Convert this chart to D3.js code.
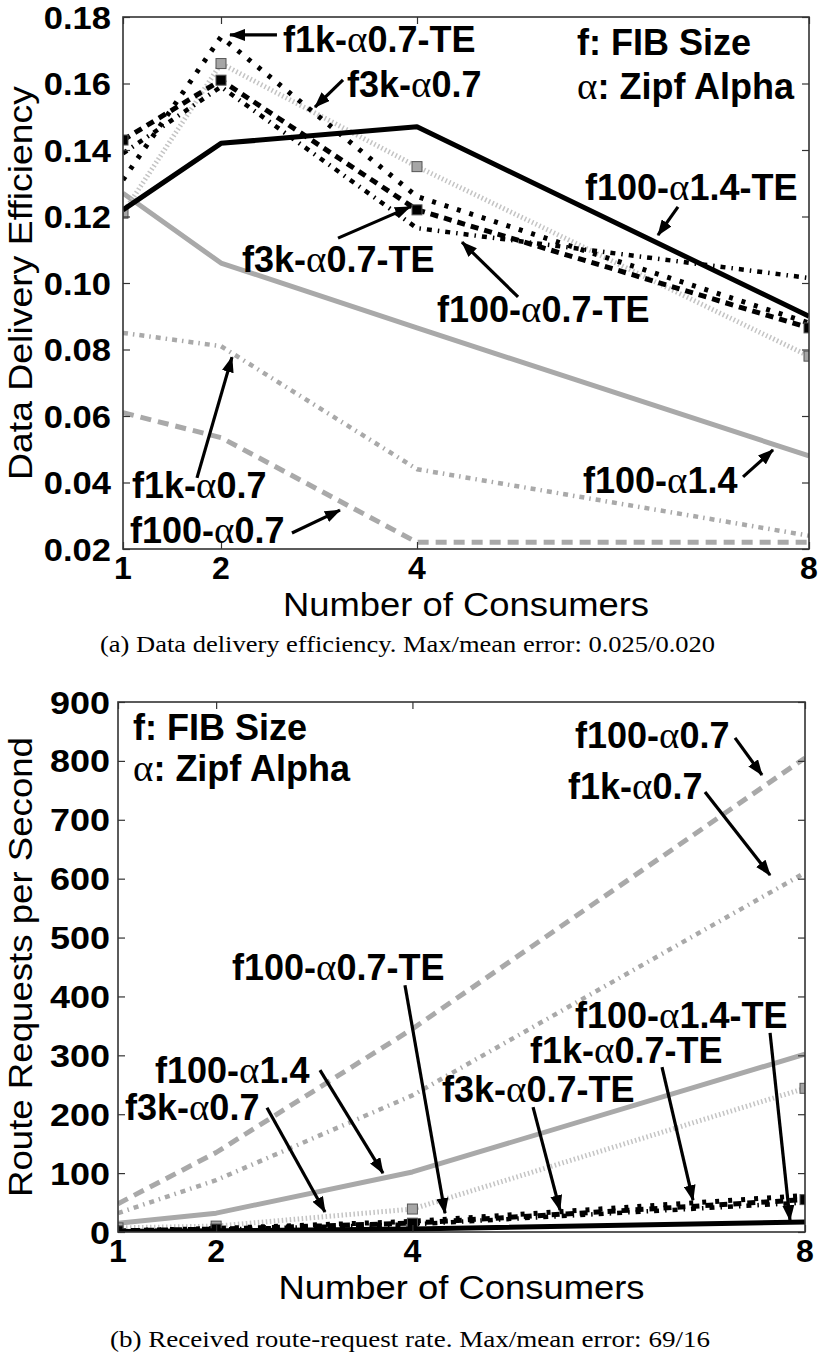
<!DOCTYPE html>
<html>
<head>
<meta charset="utf-8">
<script src="https://cdn.jsdelivr.net/npm/d3@7"></script>
<style>
  body { margin: 0; background: #fff; }
  text { font-family: "Liberation Sans", Arial, sans-serif; fill: #000; }
</style>
</head>
<body>
<div id="chart"></div>
<script>
// x values (number of consumers), same for both panels
var consumers = [1, 2, 4, 8];
var xTicks = [1, 2, 4, 8];

var seriesNames = ["f100-α0.7", "f1k-α0.7", "f100-α1.4", "f3k-α0.7",
                   "f100-α0.7-TE", "f1k-α0.7-TE", "f3k-α0.7-TE", "f100-α1.4-TE"];

// (a) data delivery efficiency
var effF100a07   = [0.061, 0.0535, 0.022, 0.022];
var effF1ka07    = [0.085, 0.081, 0.044, 0.024];
var effF100a14   = [0.127, 0.106, 0.0865, 0.048];
var effF3ka07    = [0.121, 0.166, 0.135, 0.078];
var effF100a07TE = [0.139, 0.159, 0.1165, 0.1015];
var effF1ka07TE  = [0.131, 0.174, 0.126, 0.088];
var effF3ka07TE  = [0.143, 0.161, 0.122, 0.0865];
var effF100a14TE = [0.122, 0.142, 0.147, 0.090];
var effTicks = [0.02, 0.04, 0.06, 0.08, 0.10, 0.12, 0.14, 0.16, 0.18];

// (b) route requests per second
var reqF100a07   = [48, 135, 345, 805];
var reqF1ka07    = [32, 88, 232, 610];
var reqF100a14   = [15, 32, 102, 302];
var reqF3ka07    = [7, 10, 39, 244];
var reqF100a07TE = [1, 4, 13, 50];
var reqF1ka07TE  = [2, 6, 18, 62];
var reqF3ka07TE  = [2, 5, 15, 55];
var reqF100a14TE = [1, 2, 5, 17];
var reqTicks = [0, 100, 200, 300, 400, 500, 600, 700, 800, 900];

// line looks, keyed by series name
var styles = {
  "f100-α0.7":    {color: "#a9a9a9", width: 5, dash: "11,7"},
  "f1k-α0.7":     {color: "#a9a9a9", width: 4.5, dash: "5,5,1.5,5"},
  "f100-α1.4":    {color: "#a9a9a9", width: 5, dash: null},
  "f3k-α0.7":     {color: "#c4c4c4", width: 5, dash: "1.5,2.5", marker: "#a6a6a6"},
  "f100-α0.7-TE": {color: "#000", width: 4.5, dash: "5,6,1.5,6"},
  "f1k-α0.7-TE":  {color: "#000", width: 5, dash: "4,9"},
  "f3k-α0.7-TE":  {color: "#000", width: 5, dash: "8,6", marker: "#000"},
  "f100-α1.4-TE": {color: "#000", width: 5, dash: null}
};

// annotation text + arrow, given in data units
var notesA = [
  {t: "f1k-α0.7-TE",  x: 2.633, y: 0.1695, a: [2.571, 0.1746, 2.092, 0.1746]},
  {t: "f3k-α0.7",     x: 3.286, y: 0.1559, a: [3.245, 0.1611, 2.959, 0.1529]},
  {t: "f100-α1.4-TE", x: 5.714, y: 0.1250, a: [6.663, 0.1229, 6.459, 0.1144]},
  {t: "f3k-α0.7-TE",  x: 2.214, y: 0.1033, a: [3.194, 0.1135, 3.929, 0.1229]},
  {t: "f100-α0.7-TE", x: 4.204, y: 0.0883, a: [5.031, 0.0958, 4.459, 0.1123]},
  {t: "f1k-α0.7",     x: 1.092, y: 0.0353, a: [1.755, 0.0414, 2.112, 0.0777]},
  {t: "f100-α0.7",    x: 1.071, y: 0.0218, a: [2.724, 0.0248, 3.214, 0.0317]},
  {t: "f100-α1.4",    x: 5.694, y: 0.0368, a: [7.327, 0.0417, 7.633, 0.0498]},
  {t: "f: FIB Size",  x: 5.633, y: 0.1686},
  {t: "α: Zipf Alpha", x: 5.633, y: 0.1553}
];
var notesB = [
  {t: "f100-α0.7",    x: 5.657, y: 822, a: [7.287, 839, 7.562, 776]},
  {t: "f1k-α0.7",     x: 5.585, y: 735, a: [6.981, 747, 7.644, 606]},
  {t: "f100-α0.7-TE", x: 2.162, y: 428, a: [3.924, 419, 4.332, 32]},
  {t: "f100-α1.4",    x: 1.377, y: 253, a: [3.058, 275, 3.700, 100]},
  {t: "f3k-α0.7",     x: 1.071, y: 190, a: [2.518, 211, 3.109, 34]},
  {t: "f3k-α0.7-TE",  x: 4.301, y: 221, a: [5.229, 212, 5.504, 37]},
  {t: "f1k-α0.7-TE",  x: 5.198, y: 287, a: [6.543, 280, 6.859, 54]},
  {t: "f100-α1.4-TE", x: 5.657, y: 346, a: [7.644, 338, 7.847, 20]},
  {t: "f: FIB Size",  x: 1.153, y: 835},
  {t: "α: Zipf Alpha", x: 1.153, y: 766}
];

var svg = d3.select("#chart").append("svg")
  .attr("width", 818).attr("height", 1357)
  .style("background", "#fff");

var defs = svg.append("defs");
defs.append("marker")
  .attr("id", "arrow")
  .attr("markerUnits", "userSpaceOnUse")
  .attr("viewBox", "0 0 16 12")
  .attr("markerWidth", 16).attr("markerHeight", 12)
  .attr("refX", 15).attr("refY", 6)
  .attr("orient", "auto")
  .append("path").attr("d", "M0,0 L16,6 L0,12 Z").attr("fill", "#000");

// text with the greek alpha set in a serif face, like the original
function richText(g, str, x, y, size) {
  var t = g.append("text").attr("x", x).attr("y", y)
    .attr("font-size", size).attr("font-weight", "bold");
  str.split("α").forEach(function(p, i) {
    if (i > 0) t.append("tspan")
      .style("font-family", "'Liberation Serif', 'DejaVu Serif', serif")
      .attr("font-weight", "normal").attr("font-size", size * 1.08).text("α");
    if (p) t.append("tspan").text(p);
  });
  return t;
}

function drawPanel(p) {
  var x = d3.scaleLinear().domain([1, 8]).range([p.left, p.left + p.w]);
  var y = d3.scaleLinear().domain(p.yDomain).range([p.top + p.h, p.top]);
  var g = svg.append("g");

  g.append("clipPath").attr("id", p.id)
    .append("rect").attr("x", p.left).attr("y", p.top).attr("width", p.w).attr("height", p.h);

  var line = d3.line().x(function(d) { return x(d[0]); }).y(function(d) { return y(d[1]); });
  var plot = g.append("g").attr("clip-path", "url(#" + p.id + ")");

  seriesNames.forEach(function(name, k) {
    var st = styles[name];
    var pts = consumers.map(function(c, i) { return [c, p.values[k][i]]; });
    plot.append("path").datum(pts)
      .attr("d", line)
      .attr("fill", "none")
      .attr("stroke", st.color)
      .attr("stroke-width", st.width)
      .attr("stroke-dasharray", st.dash)
      .attr("stroke-linejoin", "round");
    if (st.marker) {
      plot.selectAll(null).data(pts).enter().append("rect")
        .attr("x", function(d) { return x(d[0]) - 5; })
        .attr("y", function(d) { return y(d[1]) - 5; })
        .attr("width", 10).attr("height", 10)
        .attr("fill", st.marker).attr("stroke", "#555").attr("stroke-width", 1);
    }
  });

  // axes: ticks inside on all four sides
  var tk = 7;
  g.append("g").attr("transform", "translate(0," + (p.top + p.h) + ")")
    .call(d3.axisBottom(x).tickValues(xTicks).tickSize(-tk).tickFormat(""))
    .call(function(a) { a.select(".domain").remove(); });
  g.append("g").attr("transform", "translate(0," + p.top + ")")
    .call(d3.axisTop(x).tickValues(xTicks).tickSize(-tk).tickFormat(""))
    .call(function(a) { a.select(".domain").remove(); });
  g.append("g").attr("transform", "translate(" + p.left + ",0)")
    .call(d3.axisLeft(y).tickValues(p.yTicks).tickSize(-tk).tickFormat(""))
    .call(function(a) { a.select(".domain").remove(); });
  g.append("g").attr("transform", "translate(" + (p.left + p.w) + ",0)")
    .call(d3.axisRight(y).tickValues(p.yTicks).tickSize(-tk).tickFormat(""))
    .call(function(a) { a.select(".domain").remove(); });
  g.selectAll(".tick line").attr("stroke", "#333").attr("stroke-width", 1.2);

  g.append("rect").attr("x", p.left).attr("y", p.top).attr("width", p.w).attr("height", p.h)
    .attr("fill", "none").attr("stroke", "#333").attr("stroke-width", 1.6);

  // tick labels
  g.selectAll(null).data(p.yTicks).enter().append("text")
    .attr("x", p.left - p.yLabGap).attr("y", function(d) { return y(d); })
    .attr("dy", "0.36em").attr("text-anchor", "end")
    .attr("font-size", 32).attr("font-weight", "bold")
    .attr("textLength", function(d) { return p.yFmt(d).length * p.yCharW; })
    .attr("lengthAdjust", "spacingAndGlyphs")
    .text(p.yFmt);
  g.selectAll(null).data(xTicks).enter().append("text")
    .attr("x", function(d) { return x(d); }).attr("y", p.top + p.h + 30)
    .attr("text-anchor", "middle")
    .attr("font-size", 32).attr("font-weight", "bold")
    .text(function(d) { return d; });

  // axis titles
  g.append("text").attr("x", p.left + p.w / 2).attr("y", p.top + p.h + 67)
    .attr("text-anchor", "middle").attr("font-size", 33)
    .attr("textLength", 366).attr("lengthAdjust", "spacingAndGlyphs")
    .text("Number of Consumers");
  g.append("text")
    .attr("transform", "translate(32," + (p.top + p.h / 2) + ") rotate(-90)")
    .attr("text-anchor", "middle").attr("font-size", 34)
    .attr("textLength", p.yTitleLen).attr("lengthAdjust", "spacingAndGlyphs")
    .text(p.yTitle);

  // caption
  g.append("text").attr("x", p.capX).attr("y", p.top + p.h + p.capDy)
    .style("font-family", "'Liberation Serif', 'DejaVu Serif', serif")
    .attr("font-size", 23)
    .attr("textLength", p.capLen).attr("lengthAdjust", "spacingAndGlyphs")
    .text(p.caption);

  // annotations
  p.notes.forEach(function(n) {
    richText(g, n.t, x(n.x), y(n.y), 36);
    if (n.a) {
      g.append("line")
        .attr("x1", x(n.a[0])).attr("y1", y(n.a[1]))
        .attr("x2", x(n.a[2])).attr("y2", y(n.a[3]))
        .attr("stroke", "#000").attr("stroke-width", 3.2)
        .attr("marker-end", "url(#arrow)");
    }
  });
}

drawPanel({
  id: "clipA", left: 123, top: 17, w: 686, h: 532,
  yDomain: [0.02, 0.18], yTicks: effTicks, yFmt: d3.format(".2f"), yLabGap: 12, yCharW: 16.8,
  values: [effF100a07, effF1ka07, effF100a14, effF3ka07, effF100a07TE, effF1ka07TE, effF3ka07TE, effF100a14TE],
  yTitle: "Data Delivery Efficiency", yTitleLen: 394,
  caption: "(a) Data delivery efficiency. Max/mean error: 0.025/0.020", capX: 100, capDy: 103, capLen: 615,
  notes: notesA
});

drawPanel({
  id: "clipB", left: 118, top: 702, w: 687, h: 530,
  yDomain: [0, 900], yTicks: reqTicks, yFmt: d3.format("d"), yLabGap: 8, yCharW: 20,
  values: [reqF100a07, reqF1ka07, reqF100a14, reqF3ka07, reqF100a07TE, reqF1ka07TE, reqF3ka07TE, reqF100a14TE],
  yTitle: "Route Requests per Second", yTitleLen: 460,
  caption: "(b) Received route-request rate. Max/mean error: 69/16", capX: 110, capDy: 115, capLen: 600,
  notes: notesB
});
</script>
</body>
</html>
